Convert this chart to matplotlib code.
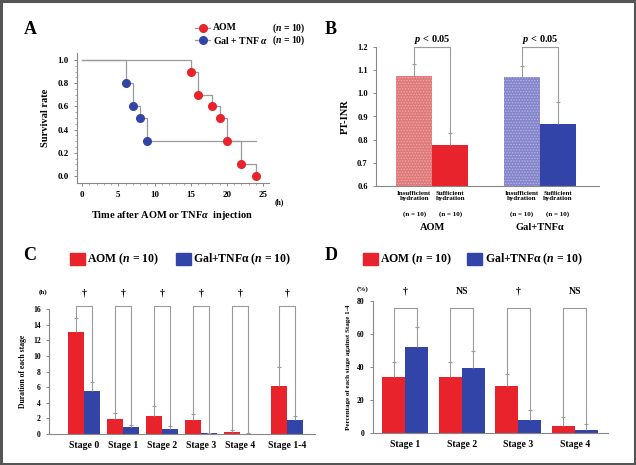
import numpy as np
import matplotlib
matplotlib.use("Agg")
import matplotlib.pyplot as plt
from matplotlib.lines import Line2D
from matplotlib.patches import Rectangle

# --- data ---
# A: survival curves
aom_time = [0, 15, 16, 18, 19, 20, 22, 24]
aom_surv = [1.0, 0.9, 0.7, 0.6, 0.5, 0.3, 0.1, 0.0]
gal_time = [0, 6, 7, 8, 9, 24]
gal_surv = [1.0, 0.8, 0.6, 0.5, 0.3, 0.3]

# B: PT-INR
b_labels = ["Insufficient\nhydration", "Sufficient\nhydration",
            "Insufficient\nhydration", "Sufficient\nhydration"]
b_values = [1.075, 0.775, 1.071, 0.867]
b_err = [0.050, 0.055, 0.048, 0.096]
b_groups = ["AOM", "Gal+TNFα"]

# C: duration of each stage (h)
c_stages = ["Stage 0", "Stage 1", "Stage 2", "Stage 3", "Stage 4", "Stage 1-4"]
c_aom = [13.0, 1.95, 2.25, 1.75, 0.2, 6.2]
c_aom_err = [1.9, 0.75, 1.35, 0.85, 0.3, 2.4]
c_gal = [5.5, 0.95, 0.68, 0.1, 0.05, 1.8]
c_gal_err = [1.2, 0.25, 0.35, 0.05, 0.05, 0.5]
c_sig = ["†", "†", "†", "†", "†", "†"]

# D: percentage of each stage against Stage 1-4
d_stages = ["Stage 1", "Stage 2", "Stage 3", "Stage 4"]
d_aom = [33.7, 34.0, 28.4, 4.2]
d_aom_err = [9.3, 9.0, 7.6, 5.3]
d_gal = [52.0, 39.5, 7.7, 2.0]
d_gal_err = [12.5, 10.1, 6.3, 3.4]
d_sig = ["†", "NS", "†", "NS"]

RED = "#e8232b"
BLUE = "#3344a8"
PINK = "#e07a7a"
LILAC = "#8585cc"
GRAY = "#9a9a9a"

plt.rcParams.update({
    "font.family": "Liberation Serif",
    "font.weight": "bold",
    "axes.labelweight": "bold",
    "mathtext.fontset": "custom",
    "mathtext.rm": "Liberation Serif:bold",
    "mathtext.it": "Liberation Serif:italic:bold",
    "mathtext.bf": "Liberation Serif:bold",
    "axes.linewidth": 0.8,
    "axes.edgecolor": "#888888",
    "xtick.color": "#888888",
    "ytick.color": "#888888",
    "xtick.labelcolor": "black",
    "ytick.labelcolor": "black",
    "hatch.linewidth": 0.6,
})

W, H = 636, 465
fig = plt.figure(figsize=(W / 100, H / 100), dpi=100)


def box(left, top, right, bottom):
    return [left / W, 1 - bottom / H, (right - left) / W, (bottom - top) / H]


def fx(x):
    return x / W


def fy(y):
    return 1 - y / H


def style(ax):
    ax.spines["top"].set_visible(False)
    ax.spines["right"].set_visible(False)
    ax.tick_params(length=2.5, width=0.7, direction="out")


def err_up(ax, x, y, e):
    x = np.asarray(x, dtype=float)
    top = np.asarray(y) + np.asarray(e)
    ax.vlines(x, y, top, color=GRAY, lw=0.8, zorder=3)
    ax.plot(x, top, ls="none", marker="_", ms=3.5, mew=0.8, color=GRAY,
            zorder=3)


def brackets(ax, x1, x2, y1, y2, top):
    for a, b, ya, yb in zip(x1, x2, y1, y2):
        ax.plot([a, a, b, b], [ya, top, top, yb], color=GRAY, lw=0.8,
                clip_on=False, zorder=2)


# --- Panel A ---
axA = fig.add_axes(box(77, 53, 269, 183))
style(axA)
axA.step(aom_time, aom_surv, where="post", color=GRAY, lw=0.9, zorder=1)
axA.step(gal_time, gal_surv, where="post", color=GRAY, lw=0.9, zorder=1)
axA.plot(aom_time[1:], aom_surv[1:], "o", color=RED, ms=5.5, zorder=3)
axA.plot(gal_time[1:-1], gal_surv[1:-1], "o", color=BLUE, ms=5.5, zorder=3)
axA.set_xlim(-0.7, 25.8)
axA.set_ylim(-0.06, 1.06)
axA.set_xticks([0, 5, 10, 15, 20, 25])
axA.set_xticks(np.arange(0, 26, 1), minor=True)
axA.set_yticks(np.arange(0, 1.01, 0.2))
axA.set_yticks(np.arange(0, 1.01, 0.05), minor=True)
axA.tick_params(which="minor", length=1.5, width=0.5)
axA.set_yticklabels([f"{v:.1f}" for v in np.arange(0, 1.01, 0.2)])
axA.tick_params(labelsize=6.5)
axA.set_ylabel("Survival rate", fontsize=7.5, labelpad=5)
fig.text(fx(172), fy(215), "Time after AOM or TNF$\\alpha$  injection",
         ha="center", va="center", fontsize=7.5)
fig.text(fx(279), fy(202), "(h)", ha="center", va="center", fontsize=5.5)

# legend A
for yy, col, name in [(28, RED, "AOM"), (40, BLUE, "Gal + TNF $\\alpha$")]:
    fig.add_artist(Line2D([fx(195), fx(210)], [fy(yy), fy(yy)], color=GRAY,
                          lw=0.9, transform=fig.transFigure))
    fig.add_artist(Line2D([fx(202.5)], [fy(yy)], marker="o", color=col, ms=5.5,
                          transform=fig.transFigure))
    fig.text(fx(213), fy(yy), name, ha="left", va="center", fontsize=7)
    fig.text(fx(306), fy(yy), "($\\it{n}$ = 10)", ha="right", va="center",
             fontsize=7)

# --- Panel B ---
axB = fig.add_axes(box(376, 47, 599, 186))
style(axB)
bx = [0, 1, 3, 4]
bcol = [PINK, RED, LILAC, BLUE]
bhatch = ["......", None, "......", None]
bedge = ["#eeaaaa", RED, "#b5b5e5", BLUE]
for x, v, c, h, ec in zip(bx, b_values, bcol, bhatch, bedge):
    axB.bar(x, v - 0.6, bottom=0.6, width=1.0, color=c, hatch=h,
            edgecolor=ec, linewidth=0, zorder=2)
err_up(axB, bx, b_values, b_err)
tops_b = [v + e for v, e in zip(b_values, b_err)]
brackets(axB, [0, 3], [1, 4], [tops_b[0], tops_b[2]], [tops_b[1], tops_b[3]], 1.2)
for xm in [0.5, 3.5]:
    axB.text(xm, 1.234, "$\\it{p}$ < 0.05", ha="center", va="center",
             fontsize=7.5)
axB.set_xlim(-1.06, 5.14)
axB.set_ylim(0.6, 1.2)
axB.set_yticks(np.arange(0.6, 1.21, 0.1))
axB.set_yticklabels([f"{v:.1f}" for v in np.arange(0.6, 1.21, 0.1)])
axB.tick_params(axis="y", labelsize=6)
axB.set_xticks([])
axB.set_ylabel("PT-INR", fontsize=7.5, labelpad=5)
for x, lab in zip(bx, b_labels):
    axB.text(x, 0.579, lab, ha="center", va="top", fontsize=5,
             linespacing=1.15)
    axB.text(x, 0.479, "(n = 10)", ha="center", va="center", fontsize=5)
for xm, g in zip([0.5, 3.5], b_groups):
    axB.text(xm, 0.419, g, ha="center", va="center", fontsize=7.5)

# --- Panel C ---
axC = fig.add_axes(box(49, 309, 315, 434))
style(axC)
cx = np.array([0, 1, 2, 3, 4, 5.2])
bw = 0.41
axC.bar(cx - bw / 2, c_aom, width=bw, color=RED, zorder=2)
axC.bar(cx + bw / 2, c_gal, width=bw, color=BLUE, zorder=2)
err_up(axC, cx - bw / 2, c_aom, c_aom_err)
err_up(axC, cx + bw / 2, c_gal, c_gal_err)
brackets(axC, cx - bw / 2, cx + bw / 2,
         [v + e for v, e in zip(c_aom, c_aom_err)],
         [v + e for v, e in zip(c_gal, c_gal_err)], 16.4)
for x, s in zip(cx, c_sig):
    axC.text(x, 18.1, s, ha="center", va="center", fontsize=7, clip_on=False)
axC.text(-1.05, 18.1, "(h)", ha="center", va="center", fontsize=5)
axC.set_xlim(-0.9, 5.92)
axC.set_ylim(0, 16)
axC.set_yticks(np.arange(0, 17, 2))
axC.tick_params(axis="y", labelsize=5.5)
axC.set_xticks(cx)
axC.set_xticklabels(c_stages, fontsize=7)
axC.tick_params(axis="x", length=0, pad=5)
axC.set_ylabel("Duration of each stage", fontsize=5.5, labelpad=4)

# --- Panel D ---
axD = fig.add_axes(box(373, 301, 608, 433))
style(axD)
dx = np.arange(len(d_stages))
axD.bar(dx - bw / 2, d_aom, width=bw, color=RED, zorder=2)
axD.bar(dx + bw / 2, d_gal, width=bw, color=BLUE, zorder=2)
err_up(axD, dx - bw / 2, d_aom, d_aom_err)
err_up(axD, dx + bw / 2, d_gal, d_gal_err)
brackets(axD, dx - bw / 2, dx + bw / 2,
         [v + e for v, e in zip(d_aom, d_aom_err)],
         [v + e for v, e in zip(d_gal, d_gal_err)], 75.8)
for x, s in zip(dx, d_sig):
    axD.text(x, 86, s, ha="center", va="center", fontsize=7, clip_on=False)
axD.text(-0.76, 87, "(%)", ha="center", va="center", fontsize=5)
axD.set_xlim(-0.57, 3.59)
axD.set_ylim(0, 80)
axD.set_yticks(np.arange(0, 81, 20))
axD.tick_params(axis="y", labelsize=5.5)
axD.set_xticks(dx)
axD.set_xticklabels(d_stages, fontsize=7)
axD.tick_params(axis="x", length=0, pad=5)
axD.set_ylabel("Percentage of each stage against Stage 1-4", fontsize=5,
               labelpad=4)

# legends C and D
for px0, px1, bx0, bx1 in [(70, 87, 176, 193), (363, 380, 467, 485)]:
    for p0, col, name, t0 in [(px0, RED, "AOM", px1), (bx0, BLUE, "Gal+TNFα", bx1)]:
        fig.add_artist(Rectangle((fx(p0), fy(265)), 15 / W, 12 / H, color=col,
                                 transform=fig.transFigure))
        fig.text(fx(t0), fy(259), name + " ($\\it{n}$ = 10)", ha="left",
                 va="center", fontsize=8.5)

# panel letters
for x, y, s in [(30, 29, "A"), (331, 29, "B"), (30, 256, "C"), (331, 256, "D")]:
    fig.text(fx(x), fy(y), s, ha="center", va="center", fontsize=13)

# outer frame
fig.add_artist(Rectangle((0.0015, 0.002), 0.997, 0.996, fill=False,
                         edgecolor="#555555", lw=2.2, transform=fig.transFigure))

fig.savefig("out.png", dpi=100)
